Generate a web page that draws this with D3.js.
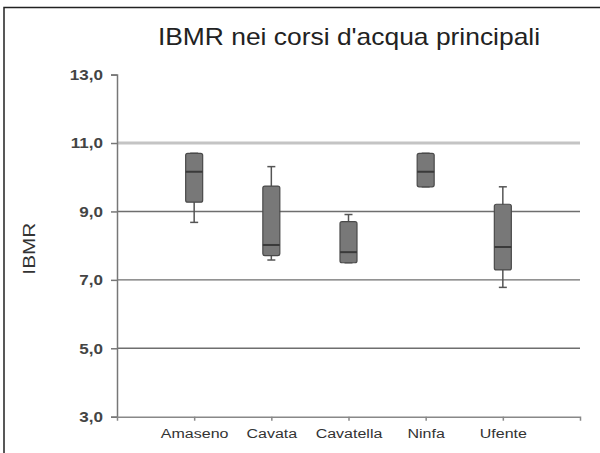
<!DOCTYPE html>
<html>
<head>
<meta charset="utf-8">
<script src="https://cdn.jsdelivr.net/npm/d3@7"></script>
<style>
  html, body { margin: 0; padding: 0; background: #fff; }
  svg { display: block; font-family: Arial, "Liberation Sans", sans-serif; }
</style>
</head>
<body>
<svg id="chart" width="600" height="453"></svg>
<script>
// Rivers (categories) and box-plot statistics of the IBMR index
const rivers  = ["Amaseno", "Cavata", "Cavatella", "Ninfa", "Ufente"];
const minVals = [8.68, 7.58, 7.50, 9.72, 6.78];
const q1Vals  = [9.27, 7.71, 7.50, 9.72, 7.29];
const medVals = [10.16, 8.02, 7.81, 10.16, 7.96];
const q3Vals  = [10.70, 9.74, 8.70, 10.70, 9.21];
const maxVals = [10.70, 10.31, 8.91, 10.70, 9.72];
const yTicks  = [3, 5, 7, 9, 11, 13];
const gridTicks = [5, 7, 9, 11];

const title = "IBMR nei corsi d'acqua principali";
const yTitle = "IBMR";

const rows = rivers.map((r, i) => ({
  river: r, min: minVals[i], q1: q1Vals[i], med: medVals[i], q3: q3Vals[i], max: maxVals[i]
}));

const svg = d3.select("#chart");
const plotLeft = 117, plotRight = 580, plotTop = 74.6, plotBottom = 416.7;

const x = d3.scalePoint().domain(rivers).range([plotLeft, plotRight]).padding(1);
const y = d3.scaleLinear().domain([3, 13]).range([plotBottom, plotTop]);
const fmt = v => d3.format(".1f")(v).replace(".", ",");

// widen text a little, as in the original typesetting
function stretch(sel, k) {
  sel.each(function () {
    const w = this.getComputedTextLength();
    d3.select(this).attr("textLength", w * k).attr("lengthAdjust", "spacingAndGlyphs");
  });
}

// outer frame
svg.append("rect")
  .attr("x", 4).attr("y", 7.5).attr("width", 620).attr("height", 470)
  .attr("fill", "none").attr("stroke", "#222").attr("stroke-width", 1.5);

// title
svg.append("text")
  .attr("x", 349).attr("y", 45)
  .attr("text-anchor", "middle")
  .attr("font-size", 24).attr("fill", "#222")
  .text(title)
  .call(stretch, 1.1);

// horizontal gridlines
svg.append("g").selectAll("line").data(gridTicks).join("line")
  .attr("x1", plotLeft).attr("x2", plotRight)
  .attr("y1", d => y(d)).attr("y2", d => y(d))
  .attr("stroke", d => d === 11 ? "#c4c4c4" : "#6e6e6e")
  .attr("stroke-width", d => d === 11 ? 3 : 1.4);

// y axis
const yAxis = svg.append("g")
  .attr("transform", `translate(${plotLeft},0)`)
  .call(d3.axisLeft(y).tickValues(yTicks).tickSize(6).tickPadding(8).tickFormat(fmt));
yAxis.select(".domain").attr("stroke", "#777").attr("stroke-width", 1.5);
yAxis.selectAll(".tick line").attr("stroke", "#777").attr("stroke-width", 1.5);
yAxis.selectAll(".tick text")
  .attr("font-size", 15.5).attr("font-weight", "bold").attr("fill", "#444")
  .attr("font-family", "Arial, 'Liberation Sans', sans-serif")
  .call(stretch, 1.1);

// x axis
const xAxis = svg.append("g")
  .attr("transform", `translate(0,${plotBottom})`)
  .call(d3.axisBottom(x).tickSizeInner(4).tickSizeOuter(4).tickPadding(8));
xAxis.select(".domain").attr("stroke", "#888").attr("stroke-width", 1.5);
xAxis.selectAll(".tick line").attr("stroke", "#888").attr("stroke-width", 1.5);
xAxis.selectAll(".tick text")
  .attr("font-size", 12.5).attr("fill", "#333")
  .attr("font-family", "Arial, 'Liberation Sans', sans-serif")
  .call(stretch, 1.28);

// y-axis title
svg.append("text")
  .attr("transform", `translate(35,${(y(7) + y(9)) / 2 + 3}) rotate(-90)`)
  .attr("text-anchor", "middle")
  .attr("font-size", 16).attr("fill", "#333")
  .text(yTitle)
  .call(stretch, 1.3);

// box plots
const boxW = 17, capW = 8;
const g = svg.append("g").selectAll("g").data(rows).join("g")
  .attr("transform", d => `translate(${x(d.river)},0)`);

g.append("line") // whisker
  .attr("x1", 0).attr("x2", 0)
  .attr("y1", d => y(d.max)).attr("y2", d => y(d.min))
  .attr("stroke", "#555").attr("stroke-width", 1.5);

g.selectAll(".cap").data(d => [d.min, d.max]).join("line")
  .attr("class", "cap")
  .attr("x1", -capW / 2).attr("x2", capW / 2)
  .attr("y1", v => y(v)).attr("y2", v => y(v))
  .attr("stroke", "#555").attr("stroke-width", 1.5);

g.append("rect")
  .attr("x", -boxW / 2).attr("width", boxW)
  .attr("y", d => y(d.q3)).attr("height", d => y(d.q1) - y(d.q3))
  .attr("rx", 2)
  .attr("fill", "#787878").attr("stroke", "#4a4a4a").attr("stroke-width", 1.2);

g.append("line") // median
  .attr("x1", -boxW / 2).attr("x2", boxW / 2)
  .attr("y1", d => y(d.med)).attr("y2", d => y(d.med))
  .attr("stroke", "#3a3a3a").attr("stroke-width", 2);
</script>
</body>
</html>
